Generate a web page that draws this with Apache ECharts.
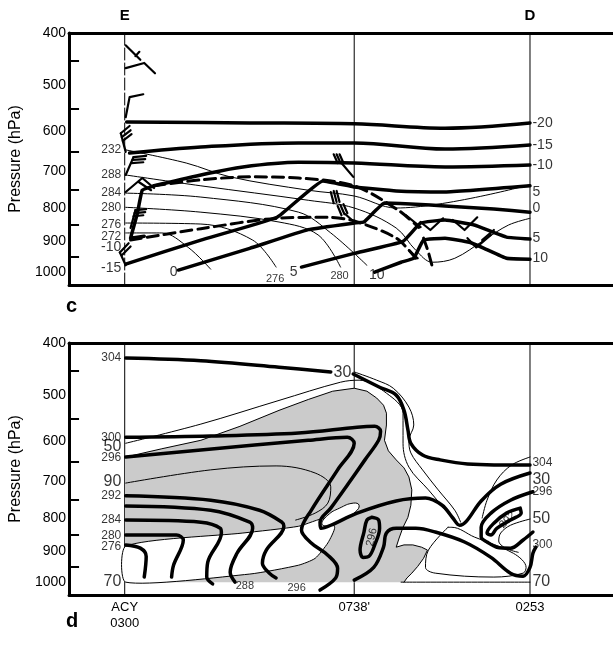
<!DOCTYPE html>
<html><head><meta charset="utf-8">
<script src="https://cdn.jsdelivr.net/npm/echarts@6.0.0/dist/echarts.min.js"></script>
<style>html,body{margin:0;padding:0;background:#fff}#chart{width:613px;height:656px}</style>
</head><body><div id="chart"></div>
<script>
// ---------- axes / ticks ----------
const pressureLabels = [400,500,600,700,800,900,1000];
const pressureTicks = [450,550,650,750,850,950];
const stationX = [0,235,415];
const stationNamesD = ["ACY\n0300","0738'","0253"];
const sectionEnds = ["E","D"];
const X_MIN = -57, X_MAX = 500, P_MIN = 400, P_MAX = 1044;

// ---------- panel c : isotherms (thick) ----------
const isoC_m20 = [[2,579],[128,581],[235,583],[328,593],[415,581]];
const isoC_m15 = [[5,653],[78,638],[178,628],[235,628],[328,643],[415,633]];
const isoC_m10 = [[30,738],[78,709],[121,688],[178,676],[235,678],[328,688],[415,683]];
const isoC_m10Left = [[30,738],[18,750],[13,815],[6,890],[20,884]];
const isoC_m5 = [[1,973],[78,896],[156,827],[203,725],[235,741],[278,752],[328,755],[415,738]];
const isoC_0 = [[55,993],[128,922],[188,864],[235,844],[245,841],[266,786],[298,789],[328,794],[378,803],[415,812]];
const isoC_5 = [[181,983],[235,938],[285,900],[303,844],[328,835],[358,850],[391,887],[415,893]];
const isoC_10 = [[256,1000],[283,967],[296,954],[306,896],[328,890],[353,903],[368,922],[391,954],[415,957]];
// frontal (dashed thick)
const frontC_upper = [[30,738],[78,722],[128,714],[178,717],[235,738],[280,806],[301,857]];
const frontC_lower = [[6,896],[78,861],[156,830],[208,827],[235,838],[278,890],[298,954]];
const frontC_arc = [[306,890],[311,935],[315,983]];
// isentropes (thin)
const thC_292 = [[1,645],[63,678],[108,714],[188,750],[235,766],[278,800],[415,735]];
const thC_288 = [[1,709],[78,738],[188,778],[235,800],[278,859],[298,928],[315,967],[338,954],[368,896],[393,850],[415,830]];
const thC_284 = [[1,758],[78,769],[178,812],[211,874],[248,977]];
const thC_280 = [[1,798],[78,812],[158,841],[198,880],[221,983]];
const thC_276 = [[1,844],[78,847],[131,896],[155,983]];
const thC_272 = [[1,874],[38,874],[65,919],[88,990]];
// wind barbs
const barbsC = [
 [[1,422],[16,449]],[[11,442],[15,434]],[[1,465],[20,455],[31,475]],
 [[1,568],[5,524],[19,518]],
 [[1,650],[-4,605]],[[-4,605],[5,588]],[[-3,614],[6,598]],[[-2,623],[7,607]],
 [[1,709],[9,663]],[[9,663],[22,660]],[[8,670],[21,668]],[[7,678],[19,676]],
 [[1,755],[18,717],[30,744]],[[14,727],[27,750]],
 [[6,859],[11,806]],[[11,806],[22,803]],[[10,815],[21,812]],[[9,824],[19,821]],
 [[1,977],[-5,935]],[[-5,935],[4,906]],[[-3,944],[6,916]],
 [[214,656],[218,678]],[[217,656],[221,678]],[[220,656],[224,678]],[[222,678],[234,714]],
 [[211,755],[214,786]],[[214,752],[217,783]],[[217,752],[220,783]],
 [[218,794],[222,821]],[[221,792],[225,818]],[[224,789],[228,815]],[[226,818],[235,841]],
 [[303,841],[313,865],[326,830]],[[336,835],[348,865],[361,827]],
 [[351,890],[360,919],[375,880]],[[366,896],[378,865]],
 [[288,821],[303,856]],[[291,928],[300,954]]
];
// labels panel c
const labelsC_leftSmall = [["232",645],["288",709],["284",758],["280",798],["276",850],["272",887]];
const labelsC_leftLarge = [["-10",919],["-15",986]];
const labelsC_right = [["-20",581],["-15",633],["-10",683],["5",755],["0",800],["5",890],["10",954]];
const labelsC_innerLarge = [[50,1000,"0"],[173,1000,"5"],[258,1010,"10"]];
const labelsC_innerSmall = [[154,1024,"276"],[220,1013,"280"]];

// ---------- panel d : potential temperature (thick) ----------
const thD_304a = [[1,427],[78,432],[158,444],[211,453]];
const thD_304b = [[234,457],[261,483],[278,499],[286,531],[290,574],[293,605],[305,633],[323,645],[351,655],[415,658]];
const thD_300 = [[1,591],[88,588],[178,581],[238,568],[256,566],[262,577],[260,598],[246,645],[228,709],[211,772],[200,812],[201,830],[211,821],[238,786],[278,752],[308,744],[325,764],[336,800],[343,821],[350,809],[365,752],[385,707],[415,678]];
const thD_296 = [[1,638],[78,621],[188,598],[228,591],[235,605],[218,670],[191,778],[181,835],[191,874],[208,912],[218,954],[216,986],[200,1027]];
const thD_292 = [[1,738],[88,750],[138,778],[161,812],[163,824],[145,896],[141,938],[148,970],[155,986]];
const thD_288 = [[1,766],[88,778],[128,812],[131,830],[115,906],[108,967],[113,1000]];
const thD_284 = [[1,806],[78,812],[98,830],[99,844],[85,935],[84,983],[90,1006]];
const thD_280 = [[1,850],[53,850],[60,865],[50,944],[48,983]];
const thD_276 = [[1,880],[16,890],[22,916],[20,983]];
const thD_296r = [[418,727],[395,750],[375,786],[365,827],[365,856],[371,871],[381,887],[395,890],[408,865],[418,841]];
const thD_292loop = [[405,772],[406,786],[395,806],[381,830],[375,850],[371,844],[378,815],[391,786],[405,772]];
const thD_300low = [[235,993],[255,951],[265,887],[268,844],[278,830],[298,830],[318,841],[348,871],[375,919],[395,970],[408,980],[415,951],[418,906],[421,887]];
const thD_296oval = [[253,798],[260,806],[261,830],[256,880],[250,916],[244,919],[241,896],[245,841],[248,806],[253,798]];
// relative humidity (thin)
const rhD_30 = [[235,453],[258,469],[275,485],[291,524],[296,563],[291,598],[293,628],[305,670],[321,722],[338,778],[344,812]];
const rhD_50 = [[1,605],[78,561],[158,510],[221,473],[240,469],[268,495],[285,537],[285,605],[291,663],[311,722],[331,786],[341,821]];
const rhD_90 = [[1,704],[88,670],[155,660],[195,678],[211,714],[208,758],[195,786],[175,806]];
const rhD_70 = [[283,1000],[415,1000]];
const rhD_loop = [[331,827],[311,896],[308,951],[318,970],[378,983],[408,970],[411,951],[398,906],[358,856],[335,827],[331,827]];
const rhD_hookA = [[415,638],[396,658],[381,696],[371,750],[366,800]];
const rhD_hookB = [[415,803],[395,821],[385,844],[383,868],[390,890],[403,903]];
// shaded (moist) region edge, then closed along 1000 hPa; clear holes
const grayEdge = [[1,638],[38,618],[78,598],[118,566],[158,531],[188,508],[213,491],[235,485],[248,491],[258,505],[265,520],[268,537],[268,563],[266,598],[270,623],[278,645],[286,665],[291,688],[294,722],[293,764],[290,798],[285,827],[281,859],[278,887],[286,880],[295,880],[304,887],[310,896],[306,922],[300,948],[294,970],[289,986],[286,1000]];
const grayArea = grayEdge.concat([[1,1000]]);
const holeLow = [[1,884],[121,844],[178,824],[206,800],[215,827],[208,874],[195,922],[178,944],[128,973],[1,1000]];
const holeEllipse = [[202,818],[208,792],[220,772],[234,758],[240,764],[236,783],[223,806],[211,821]];
// labels panel d
const labelsD_leftSmall = [["304",427],["300",591],["296",640],["292",738],["284",806],["280",853],["276",884]];
const labelsD_leftLarge = [["50",614],["90",701],["70",997]];
const labelsD_rightSmall = [["304",653],["296",727],["300",880]];
const labelsD_rightLarge = [["30",694],["50",803],["70",997]];
const labelsD_innerLarge = [[223,455,"30"]];
const labelsD_innerSmall = [[123,1013,"288"],[176,1020,"296"]];
const labelsD_rotated = [[253,856,"296",78],[392,806,"292",45]];

// ---------- build ----------
const FONT = '"Liberation Sans", Arial, Helvetica, sans-serif';
const K = 0.286;
const f = p => Math.pow(p, K);
const inv = v => Math.round(Math.pow(v, 1 / K));
const AX = {c: [0, 0], d: [2, 1]};
const series = [];

function addLine(data, panel, o) {
  series.push({
    type: 'line', xAxisIndex: AX[panel][0], yAxisIndex: AX[panel][1],
    data: data.map(d => [d[0], f(d[1])]), symbol: 'none', showSymbol: false,
    smooth: o.smooth || 0, silent: true, animation: false, z: o.z || 5,
    lineStyle: {color: '#000', width: o.w, type: o.dash || 'solid', cap: 'round', join: 'round'}
  });
}
function addPoly(poly, panel, o) {
  series.push({
    type: 'custom', xAxisIndex: AX[panel][0], yAxisIndex: AX[panel][1], silent: true, animation: false, z: o.z,
    data: [[poly[0][0], f(poly[0][1])]],
    renderItem: (params, api) => ({
      type: 'polygon',
      shape: {points: poly.map(pt => api.coord([pt[0], f(pt[1])])), smooth: o.smooth || 0},
      style: {fill: o.fill, stroke: o.stroke || null, lineWidth: o.lw || 0}
    })
  });
}
function addLabels(items, panel, pos, size, weight) {
  series.push({
    type: 'scatter', xAxisIndex: AX[panel][0], yAxisIndex: AX[panel][1], silent: true, animation: false, z: 10,
    symbolSize: 1, itemStyle: {color: 'rgba(0,0,0,0)'},
    data: items.map(it => ({
      value: [it[0], f(it[1])],
      label: {show: true, formatter: it[2], position: pos, distance: 0, fontSize: size, fontFamily: FONT,
              color: '#000', rotate: it[3] || 0, fontWeight: weight || 'normal'}
    }))
  });
}
const LEFT_X = -3, RIGHT_X = 417;
const toLeft = arr => arr.map(a => [LEFT_X, a[1], a[0]]);
const toRight = arr => arr.map(a => [RIGHT_X, a[1], a[0]]);

// station verticals
stationX.forEach((x, i) => {
  addLine([[x, P_MIN], [x, P_MAX]], 'c', {w: 1, z: 1, dash: i === 0 ? [12, 3] : 'solid'});
  addLine([[x, P_MIN], [x, P_MAX]], 'd', {w: 1, z: 1});
});

// panel c
[isoC_m20, isoC_m15, isoC_m10].forEach(d => addLine(d, 'c', {w: 3.5, smooth: 0.35}));
[isoC_m10Left, isoC_m5, isoC_0, isoC_5, isoC_10].forEach(d => addLine(d, 'c', {w: 3.5, smooth: 0.1}));
[frontC_upper, frontC_lower, frontC_arc].forEach(d => addLine(d, 'c', {w: 3, smooth: 0.3, dash: [11, 6]}));
[thC_292, thC_288, thC_284, thC_280, thC_276, thC_272].forEach(d => addLine(d, 'c', {w: 1, smooth: 0.35, z: 4}));
barbsC.forEach(d => addLine(d, 'c', {w: 2.2, z: 6}));
addLabels(toLeft(labelsC_leftSmall), 'c', 'left', 12);
addLabels(toLeft(labelsC_leftLarge), 'c', 'left', 14);
addLabels(toRight(labelsC_right), 'c', 'right', 14);
addLabels(labelsC_innerLarge, 'c', 'inside', 14);
addLabels(labelsC_innerSmall, 'c', 'inside', 11);

// panel d
addPoly(grayArea, 'd', {fill: '#cbcbcb', z: 2, smooth: 0});
addLine(grayEdge, 'd', {w: 1, smooth: 0, z: 3});
addPoly(holeLow, 'd', {fill: '#fff', stroke: '#000', lw: 1, z: 3, smooth: 0.2});
addPoly(holeEllipse, 'd', {fill: '#fff', stroke: '#000', lw: 1, z: 3, smooth: 0.5});
[rhD_30, rhD_50, rhD_90, rhD_70, rhD_loop, rhD_hookA, rhD_hookB].forEach(d => addLine(d, 'd', {w: 1, smooth: 0.35, z: 4}));
[thD_304a, thD_304b, thD_300, thD_296, thD_292, thD_288, thD_284, thD_280, thD_276,
 thD_296r, thD_292loop, thD_300low, thD_296oval].forEach(d => addLine(d, 'd', {w: 3.5, smooth: 0.35}));
addLabels(toLeft(labelsD_leftSmall), 'd', 'left', 12);
addLabels(toLeft(labelsD_leftLarge), 'd', 'left', 16);
addLabels(toRight(labelsD_rightSmall), 'd', 'right', 12);
addLabels(toRight(labelsD_rightLarge), 'd', 'right', 16);
addLabels(labelsD_innerLarge, 'd', 'inside', 16);
addLabels(labelsD_innerSmall, 'd', 'inside', 11);
addLabels(labelsD_rotated, 'd', 'inside', 11);

const thickLine = {show: true, onZero: false, lineStyle: {color: '#000', width: 3}};
function xAx(gridIndex, position, labelCfg) {
  return {type: 'value', gridIndex, position, min: X_MIN, max: X_MAX, axisLine: thickLine,
          axisTick: {show: false}, splitLine: {show: false},
          axisLabel: labelCfg || {show: false}};
}
function yAx(gridIndex) {
  return {type: 'value', gridIndex, position: 'left', min: f(P_MIN), max: f(P_MAX), inverse: true,
    name: 'Pressure (hPa)', nameLocation: 'middle', nameGap: 40, nameRotate: 90,
    nameTextStyle: {fontFamily: FONT, fontSize: 16, color: '#000'},
    axisLine: thickLine,
    axisTick: {show: true, inside: true, length: 10, customValues: pressureTicks.map(f), lineStyle: {color: '#000', width: 2}},
    axisLabel: {show: true, customValues: pressureLabels.map(f), formatter: v => String(inv(v)),
                fontFamily: FONT, fontSize: 14, color: '#000', margin: 3},
    splitLine: {show: false}};
}

const option = {
  animation: false,
  backgroundColor: '#fff',
  title: [
    {text: 'c', left: 61, top: 291, textStyle: {fontFamily: FONT, fontSize: 20, fontWeight: 'bold', color: '#000'}},
    {text: 'd', left: 61, top: 606, textStyle: {fontFamily: FONT, fontSize: 20, fontWeight: 'bold', color: '#000'}}
  ],
  grid: [
    {left: 65, top: 33, width: 557, height: 252},
    {left: 65, top: 343, width: 557, height: 252}
  ],
  xAxis: [
    xAx(0, 'bottom'),
    xAx(0, 'top', {show: true, customValues: [stationX[0], stationX[2]],
      formatter: v => sectionEnds[v === stationX[0] ? 0 : 1], fontFamily: FONT, fontSize: 15, fontWeight: 'bold', color: '#000', margin: 10}),
    xAx(1, 'bottom', {show: true, customValues: stationX,
      formatter: v => stationNamesD[stationX.indexOf(v)], fontFamily: FONT, fontSize: 13, lineHeight: 16, color: '#000', margin: 4}),
    xAx(1, 'top')
  ],
  yAxis: [yAx(0), yAx(1)],
  series
};
const chart = echarts.init(document.getElementById('chart'), null, {renderer: 'canvas'});
chart.setOption(option);
</script>
</body></html>
